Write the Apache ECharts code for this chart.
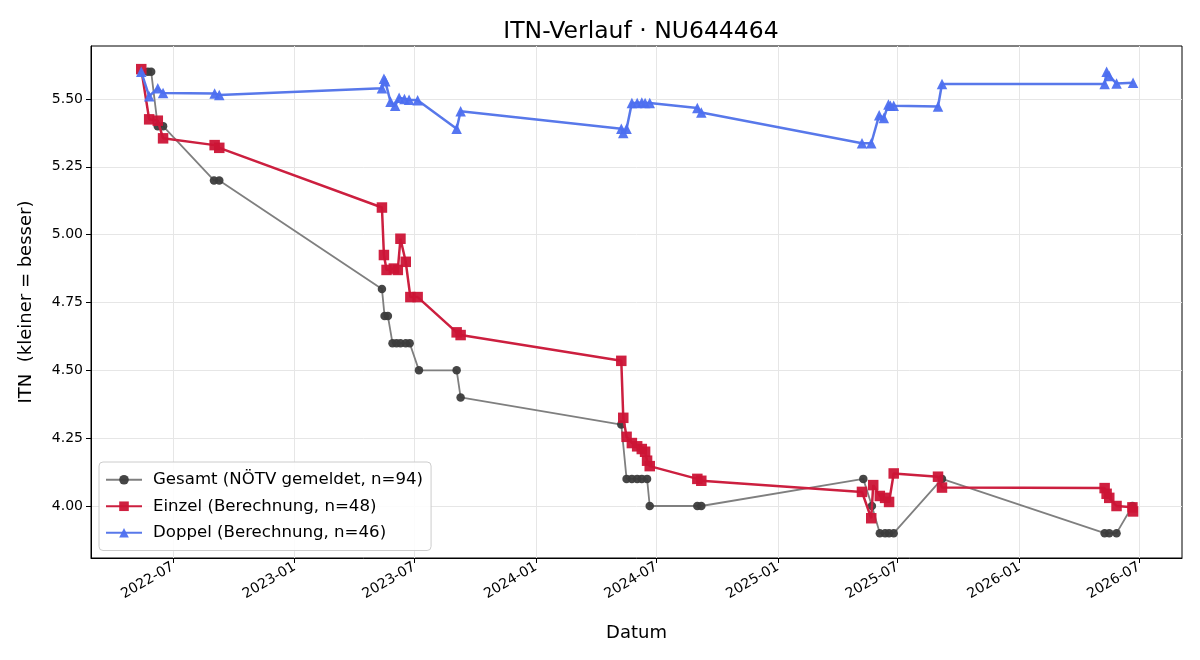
<!DOCTYPE html>
<html>
<head>
<meta charset="utf-8">
<script src="https://cdn.jsdelivr.net/npm/echarts@6/dist/echarts.min.js"></script>
<style>
  html, body { margin: 0; padding: 0; background: #fff; }
  #chart { width: 1200px; height: 660px; }
</style>
</head>
<body>
<div id="chart"></div>
<script>
// Gesamt (NÖTV gemeldet)
const gesamtDates = ['2022-05-24','2022-05-29','2022-06-08','2022-06-16','2022-09-01','2022-09-09',
  '2023-05-13','2023-05-17','2023-05-22','2023-05-29','2023-06-04','2023-06-10','2023-06-18','2023-06-24','2023-07-08','2023-09-03','2023-09-09',
  '2024-05-09','2024-05-17','2024-05-25','2024-06-02','2024-06-09','2024-06-17','2024-06-21','2024-09-01','2024-09-07',
  '2025-05-10','2025-05-23','2025-06-04','2025-06-12','2025-06-18','2025-06-25','2025-09-06',
  '2026-05-10','2026-05-17','2026-05-28','2026-06-21'];
const gesamtValues = [5.60,5.60,5.40,5.40,5.20,5.20,
  4.80,4.70,4.70,4.60,4.60,4.60,4.60,4.60,4.50,4.50,4.40,
  4.30,4.10,4.10,4.10,4.10,4.10,4.00,4.00,4.00,
  4.10,4.00,3.90,3.90,3.90,3.90,4.10,
  3.90,3.90,3.90,4.00];

// Einzel (Berechnung)
const einzelDates = ['2022-05-14','2022-05-26','2022-06-08','2022-06-16','2022-09-02','2022-09-09',
  '2023-05-13','2023-05-16','2023-05-20','2023-05-31','2023-06-06','2023-06-10','2023-06-18','2023-06-25','2023-07-06','2023-09-03','2023-09-09',
  '2024-05-09','2024-05-12','2024-05-17','2024-05-25','2024-06-02','2024-06-09','2024-06-14','2024-06-17','2024-06-21','2024-09-01','2024-09-07',
  '2025-05-08','2025-05-22','2025-05-25','2025-06-04','2025-06-12','2025-06-18','2025-06-25','2025-08-31','2025-09-06',
  '2026-05-10','2026-05-13','2026-05-17','2026-05-28','2026-06-21','2026-06-22'];
const einzelValues = [5.61,5.425,5.42,5.355,5.33,5.32,
  5.10,4.925,4.87,4.875,4.87,4.985,4.90,4.77,4.77,4.64,4.63,
  4.535,4.325,4.255,4.232,4.22,4.21,4.20,4.167,4.147,4.10,4.093,
  4.052,3.955,4.077,4.037,4.03,4.015,4.12,4.108,4.068,
  4.066,4.045,4.03,4.00,3.995,3.98];

// Doppel (Berechnung)
const doppelDates = ['2022-05-14','2022-05-26','2022-06-08','2022-06-16','2022-09-02','2022-09-09',
  '2023-05-13','2023-05-16','2023-05-18','2023-05-26','2023-06-02','2023-06-08','2023-06-16','2023-06-23','2023-07-06','2023-09-03','2023-09-09',
  '2024-05-09','2024-05-12','2024-05-17','2024-05-25','2024-06-02','2024-06-09','2024-06-14','2024-06-21','2024-09-01','2024-09-07',
  '2025-05-08','2025-05-22','2025-06-03','2025-06-10','2025-06-17','2025-06-20','2025-06-25','2025-08-31','2025-09-06',
  '2026-05-10','2026-05-13','2026-05-17','2026-05-28','2026-06-22'];
const doppelValues = [5.60,5.51,5.54,5.522,5.52,5.515,
  5.54,5.575,5.565,5.49,5.475,5.505,5.50,5.497,5.495,5.39,5.455,
  5.39,5.375,5.39,5.485,5.485,5.487,5.485,5.485,5.467,5.45,
  5.337,5.337,5.44,5.43,5.48,5.475,5.475,5.472,5.555,
  5.555,5.60,5.585,5.557,5.56];

const xTickLabels = ['2022-07','2023-01','2023-07','2024-01','2024-07','2025-01','2025-07','2026-01','2026-07'];
const yTicks = [4.00, 4.25, 4.50, 4.75, 5.00, 5.25, 5.50];

const FONT = 'DejaVu Sans';
const ts = s => +echarts.time.parse(s);
const xTicks = xTickLabels.map(s => ts(s + '-01'));
const zip = (d, v) => d.map((x, i) => [ts(x), v[i]]);

const chart = echarts.init(document.getElementById('chart'));
chart.setOption({
  animation: false,
  textStyle: { fontFamily: FONT },
  title: {
    text: 'ITN-Verlauf · NU644464',
    left: 636,
    textAlign: 'center',
    top: 15,
    textStyle: { fontFamily: FONT, fontSize: 23.5, fontWeight: 'normal', color: '#000' }
  },
  grid: { left: 91, right: 18, top: 46, bottom: 102, show: true, borderColor: '#000', borderWidth: 1 },
  legend: {
    orient: 'vertical',
    left: 99,
    top: 462,
    padding: [8, 8, 8, 6],
    itemGap: 7,
    itemWidth: 36,
    itemHeight: 12,
    backgroundColor: 'rgba(255,255,255,0.85)',
    borderColor: '#cccccc',
    borderWidth: 1,
    borderRadius: 4,
    textStyle: { fontFamily: FONT, fontSize: 16.6, lineHeight: 19.5, color: '#000', padding: [0, 0, 0, 6] },
    data: ['Gesamt (NÖTV gemeldet, n=94)', 'Einzel (Berechnung, n=48)', 'Doppel (Berechnung, n=46)']
  },
  xAxis: {
    type: 'value',
    min: ts('2022-02-27'),
    max: ts('2026-09-04'),
    name: 'Datum',
    nameLocation: 'middle',
    nameGap: 66,
    nameTextStyle: { fontFamily: FONT, fontSize: 18, color: '#000' },
    axisLine: { lineStyle: { color: '#000', width: 1 } },
    axisTick: { show: true, length: 5, customValues: xTicks, lineStyle: { color: '#000' } },
    axisLabel: {
      customValues: xTicks,
      rotate: 30,
      fontFamily: FONT, fontSize: 14, color: '#000', margin: 8,
      formatter: v => xTickLabels[xTicks.indexOf(v)] || ''
    },
    splitLine: { show: true, customValues: xTicks, lineStyle: { color: '#e6e6e6', width: 1 } }
  },
  yAxis: {
    type: 'value',
    min: 3.8084,
    max: 5.6953,
    name: 'ITN  (kleiner = besser)',
    nameLocation: 'middle',
    nameGap: 56,
    nameTextStyle: { fontFamily: FONT, fontSize: 18, color: '#000' },
    axisLine: { show: true, lineStyle: { color: '#000', width: 1 } },
    axisTick: { show: true, length: 5, customValues: yTicks, lineStyle: { color: '#000' } },
    axisLabel: {
      customValues: yTicks,
      fontFamily: FONT, fontSize: 14, color: '#000', margin: 8,
      formatter: v => v.toFixed(2)
    },
    splitLine: { show: true, customValues: yTicks, lineStyle: { color: '#e6e6e6', width: 1 } }
  },
  series: [
    {
      name: 'Gesamt (NÖTV gemeldet, n=94)',
      type: 'line',
      data: zip(gesamtDates, gesamtValues),
      symbol: 'circle',
      symbolSize: 8.5,
      z: 2,
      lineStyle: { color: '#7f7f7f', width: 1.8 },
      itemStyle: { color: '#3c3c3c', opacity: 0.95 }
    },
    {
      name: 'Einzel (Berechnung, n=48)',
      type: 'line',
      data: zip(einzelDates, einzelValues),
      symbol: 'rect',
      symbolSize: 10.5,
      z: 3,
      lineStyle: { color: '#cc1f3f', width: 2.5 },
      itemStyle: { color: '#cc1436', opacity: 0.95 }
    },
    {
      name: 'Doppel (Berechnung, n=46)',
      type: 'line',
      data: zip(doppelDates, doppelValues),
      symbol: 'triangle',
      symbolSize: 10.5,
      z: 4,
      lineStyle: { color: '#5878ea', width: 2.5 },
      itemStyle: { color: '#4d6ff0', opacity: 0.95 }
    }
  ]
});
</script>
</body>
</html>
